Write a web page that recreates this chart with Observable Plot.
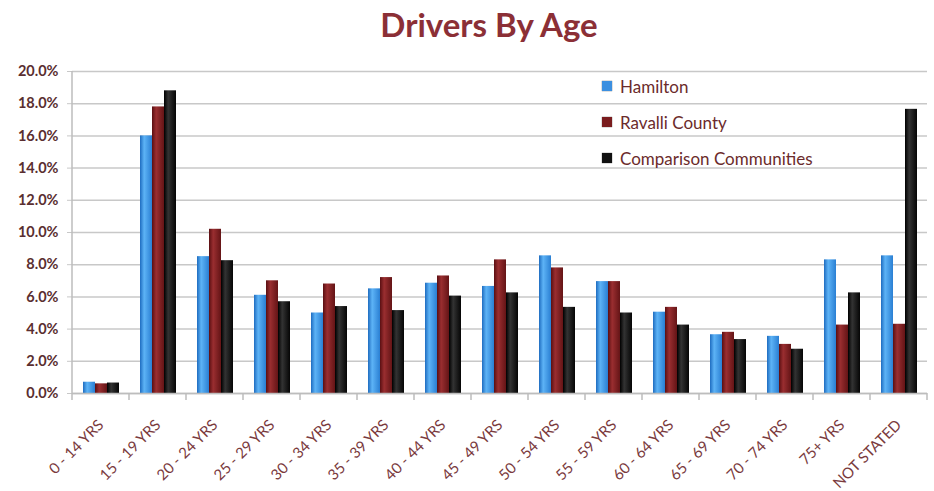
<!DOCTYPE html>
<html><head><meta charset="utf-8">
<script src="https://cdn.jsdelivr.net/npm/d3@7"></script>
<script src="https://cdn.jsdelivr.net/npm/@observablehq/plot@0.6"></script>
<style>
body{margin:0;background:#fff;font-family:Lato,"Open Sans",sans-serif}
#wrap{position:relative;width:934px;height:491px;overflow:hidden}
#title{height:50px;box-sizing:border-box;padding-left:44px;padding-top:4px;text-align:center;font-weight:bold;font-size:33px;color:#8b2f36;line-height:40px}
#legend{position:absolute;left:602px;top:68px;font-size:17px;color:#6b2b2b}
.item{display:flex;align-items:center;height:36px}
.sw{width:10px;height:10px;margin-right:8px;box-shadow:0 0 1px #444}
</style></head><body>
<div id="wrap"><div id="title">Drivers By Age</div><div id="chart"></div><div id="legend"></div></div>
<script>
const categories = ["0 - 14 YRS","15 - 19 YRS","20 - 24 YRS","25 - 29 YRS","30 - 34 YRS","35 - 39 YRS","40 - 44 YRS","45 - 49 YRS","50 - 54 YRS","55 - 59 YRS","60 - 64 YRS","65 - 69 YRS","70 - 74 YRS","75+ YRS","NOT STATED"];
const series = ["Hamilton","Ravalli County","Comparison Communities"];
const hamilton   = [0.7, 16.0, 8.5, 6.1, 5.0, 6.5, 6.85, 6.65, 8.55, 6.95, 5.05, 3.65, 3.55, 8.3, 8.55];
const ravalli    = [0.6, 17.8, 10.2, 7.0, 6.8, 7.2, 7.3, 8.3, 7.8, 6.95, 5.35, 3.8, 3.05, 4.25, 4.3];
const comparison = [0.65, 18.8, 8.25, 5.7, 5.4, 5.15, 6.05, 6.25, 5.35, 5.0, 4.25, 3.35, 2.75, 6.25, 17.65];
const yTicks = [0, 2, 4, 6, 8, 10, 12, 14, 16, 18, 20];

const seriesValues = [hamilton, ravalli, comparison];
const gradIds = ["gH", "gR", "gC"];
const swatch = ["#3b8fe0", "#7a1c1e", "#111"];
const data = [];
categories.forEach((c, i) => series.forEach((s, j) => data.push({category: c, series: s, value: seriesValues[j][i]})));

const W = 934, H = 441;
const plot = Plot.plot({
  width: W, height: H,
  marginTop: 21, marginBottom: 98, marginLeft: 67, marginRight: 3,
  style: {fontFamily: "Lato, 'Open Sans', sans-serif", background: "#fff"},
  fx: {domain: categories, padding: 0, label: null},
  x: {domain: series, paddingInner: 0, paddingOuter: 0.7, axis: null},
  y: {domain: [0, 20], label: null},
  marks: [
    Plot.gridY(yTicks, {stroke: "#c8c8c8", strokeOpacity: 1, strokeWidth: 1.5}),
    ...series.map((s, j) => Plot.barY(data.filter(d => d.series === s), {
      fx: "category", x: "series", y: "value", fill: `url(#${gradIds[j]})`
    })),
    Plot.ruleY([0], {stroke: "#bdbdbd", strokeWidth: 1.5}),
    Plot.axisY(yTicks, {tickFormat: d => d.toFixed(1) + "%", tickSize: 5, tickPadding: 9, stroke: "#c8c8c8", fill: "#5a2e30", fontSize: 14.5, fontWeight: "bold"}),
    Plot.axisFx({anchor: "bottom", tickSize: 0, tickPadding: 29, tickRotate: -45, fill: "#7a3a3d", fontSize: 15, label: null})
  ]
});
document.getElementById("chart").appendChild(plot);

// gradients for the cylinder-like bars
const svg = d3.select(plot);
const defs = svg.insert("defs", ":first-child");
const stops = [
  ["#1e6cc0", "#5db3f6", "#2a7fd3"],
  ["#5a0f12", "#9a2e30", "#641416"],
  ["#000000", "#333333", "#050505"]
];
gradIds.forEach((id, j) => {
  const g = defs.append("linearGradient").attr("id", id).attr("x1", 0).attr("x2", 1).attr("y1", 0).attr("y2", 0);
  g.append("stop").attr("offset", "0%").attr("stop-color", stops[j][0]);
  g.append("stop").attr("offset", "35%").attr("stop-color", stops[j][1]);
  g.append("stop").attr("offset", "100%").attr("stop-color", stops[j][2]);
});

// left axis line and category boundary ticks from the library's scales
const fx = plot.scale("fx"), y = plot.scale("y");
const left = fx.apply(categories[0]);
const bw = fx.bandwidth;
const deco = svg.append("g").attr("stroke", "#bdbdbd").attr("stroke-width", 1.5);
deco.append("line").attr("x1", left).attr("x2", left).attr("y1", y.apply(20)).attr("y2", y.apply(0));
categories.concat([null]).forEach((c, i) => {
  const x = left + i * bw;
  deco.append("line").attr("x1", x).attr("x2", x).attr("y1", y.apply(0)).attr("y2", y.apply(0) + 7);
});

// legend
const lg = d3.select("#legend");
series.forEach((s, j) => {
  const it = lg.append("div").attr("class", "item");
  it.append("div").attr("class", "sw").style("background", swatch[j]);
  it.append("span").text(s);
});
</script>
</body></html>
